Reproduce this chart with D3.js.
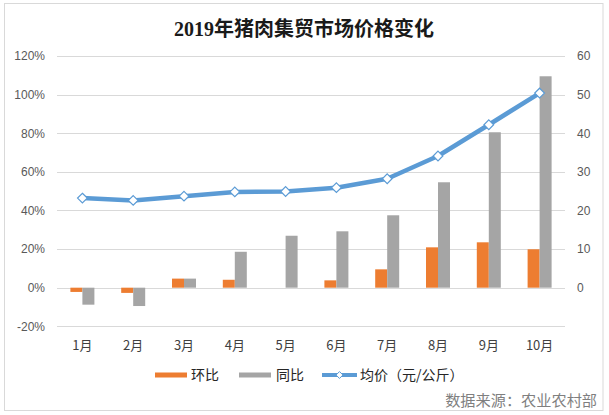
<!DOCTYPE html>
<html><head><meta charset="utf-8">
<script src="https://cdn.jsdelivr.net/npm/d3@7"></script>
<style>body{margin:0;background:#fff;}svg{display:block;}</style>
</head><body>
<svg id="c" width="609" height="415"></svg>
<script>
const categories = ["1月","2月","3月","4月","5月","6月","7月","8月","9月","10月"];
const huanbi = [-2.2, -2.7, 4.7, 4.1, 0.0, 3.8, 9.5, 20.9, 23.5, 19.9];
const tongbi = [-8.8, -9.5, 4.7, 18.6, 26.9, 29.2, 37.5, 54.6, 80.5, 109.5];
const price = [23.2, 22.6, 23.7, 24.8, 24.9, 25.9, 28.2, 34.1, 42.2, 50.4];
const leftTicks = [-20, 0, 20, 40, 60, 80, 100, 120];
const rightTicks = [0, 10, 20, 30, 40, 50, 60];
const title = "2019年猪肉集贸市场价格变化";
const legendLabels = ["环比", "同比", "均价（元/公斤）"];
const source = "数据来源：农业农村部";

const svg = d3.select("#c");
const font = "'Microsoft YaHei','Noto Sans CJK SC',sans-serif";
svg.append("rect").attr("x",4.5).attr("y",3.5).attr("width",598.5).attr("height",407)
  .attr("fill","#fff").attr("stroke","#d9d9d9");

const x0 = 57, x1 = 565;
const x = d3.scaleBand().domain(categories).range([x0, x1]);
const yL = d3.scaleLinear().domain([-20, 120]).range([326.3, 56]);
const yR = d3.scaleLinear().domain([0, 60]).range([yL(0), yL(120)]);

// gridlines
svg.append("g").selectAll("line").data(leftTicks).join("line")
  .attr("x1", x0).attr("x2", x1)
  .attr("y1", d => Math.round(yL(d)) + 0.5).attr("y2", d => Math.round(yL(d)) + 0.5)
  .attr("stroke", "#d9d9d9").attr("stroke-width", 1);

// left axis
const gl = svg.append("g").attr("transform", `translate(${x0},0)`)
  .call(d3.axisLeft(yL).tickValues(leftTicks).tickSize(0).tickPadding(12).tickFormat(d => d + "%"));
gl.select(".domain").remove();
gl.selectAll("text").attr("font-family", "'Liberation Sans',Arial,sans-serif").attr("font-size", 12).attr("fill", "#595959");

// right axis
const gr = svg.append("g").attr("transform", `translate(${x1},0)`)
  .call(d3.axisRight(yR).tickValues(rightTicks).tickSize(0).tickPadding(12));
gr.select(".domain").remove();
gr.selectAll("text").attr("font-family", "'Liberation Sans',Arial,sans-serif").attr("font-size", 12).attr("fill", "#595959");

// x axis labels
const gx = svg.append("g").attr("transform", `translate(0,${yL(-20)})`)
  .call(d3.axisBottom(x).tickSize(0).tickPadding(14));
gx.select(".domain").remove();
gx.selectAll("text").attr("font-family", font).attr("font-size", 13).attr("fill", "#404040");

const bw = 12;
// bars
svg.append("g").selectAll("rect").data(huanbi).join("rect")
  .attr("x", (d, i) => x(categories[i]) + x.bandwidth() / 2 - bw)
  .attr("width", bw)
  .attr("y", d => Math.min(yL(d), yL(0)))
  .attr("height", d => Math.abs(yL(d) - yL(0)))
  .attr("fill", "#ed7d31");
svg.append("g").selectAll("rect").data(tongbi).join("rect")
  .attr("x", (d, i) => x(categories[i]) + x.bandwidth() / 2)
  .attr("width", bw)
  .attr("y", d => Math.min(yL(d), yL(0)))
  .attr("height", d => Math.abs(yL(d) - yL(0)))
  .attr("fill", "#a5a5a5");

// line
const cx = (d, i) => x(categories[i]) + x.bandwidth() / 2;
const line = d3.line().x(cx).y(d => yR(d));
svg.append("path").datum(price).attr("d", line)
  .attr("fill", "none").attr("stroke", "#5b9bd5").attr("stroke-width", 4.5).attr("stroke-linejoin", "round").attr("stroke-linecap", "round");
const diamond = d3.symbol().type(d3.symbolDiamond2).size(60);
svg.append("g").selectAll("path").data(price).join("path")
  .attr("d", diamond())
  .attr("transform", (d, i) => `translate(${cx(d, i)},${yR(d)})`)
  .attr("fill", "#fff").attr("stroke", "#5b9bd5").attr("stroke-width", 1.2);

// title
svg.append("text").attr("x", 304).attr("y", 36).attr("text-anchor", "middle")
  .attr("font-family", "'Liberation Serif','Noto Sans CJK SC',serif").attr("font-weight", "bold")
  .attr("font-size", 20).attr("fill", "#1a1a1a").text(title);

// legend
const ly = 375;
const lg = svg.append("g");
lg.append("rect").attr("x", 155).attr("y", ly - 2.5).attr("width", 32).attr("height", 5).attr("fill", "#ed7d31");
lg.append("rect").attr("x", 239).attr("y", ly - 2.5).attr("width", 32).attr("height", 5).attr("fill", "#a5a5a5");
lg.append("line").attr("x1", 322).attr("x2", 357).attr("y1", ly).attr("y2", ly).attr("stroke", "#5b9bd5").attr("stroke-width", 4);
lg.append("path").attr("d", d3.symbol().type(d3.symbolDiamond2).size(30)()).attr("transform", `translate(339.5,${ly})`)
  .attr("fill", "#fff").attr("stroke", "#5b9bd5").attr("stroke-width", 1);
const lx = [191, 276, 360];
lg.selectAll("text").data(legendLabels).join("text")
  .attr("x", (d, i) => lx[i]).attr("y", ly + 5)
  .attr("font-family", font).attr("font-size", 14).attr("fill", "#262626").text(d => d);

// source
svg.append("text").attr("x", 597).attr("y", 406).attr("text-anchor", "end")
  .attr("font-family", font).attr("font-size", 15.2).attr("fill", "#7f7f7f").text(source);
</script>
</body></html>
